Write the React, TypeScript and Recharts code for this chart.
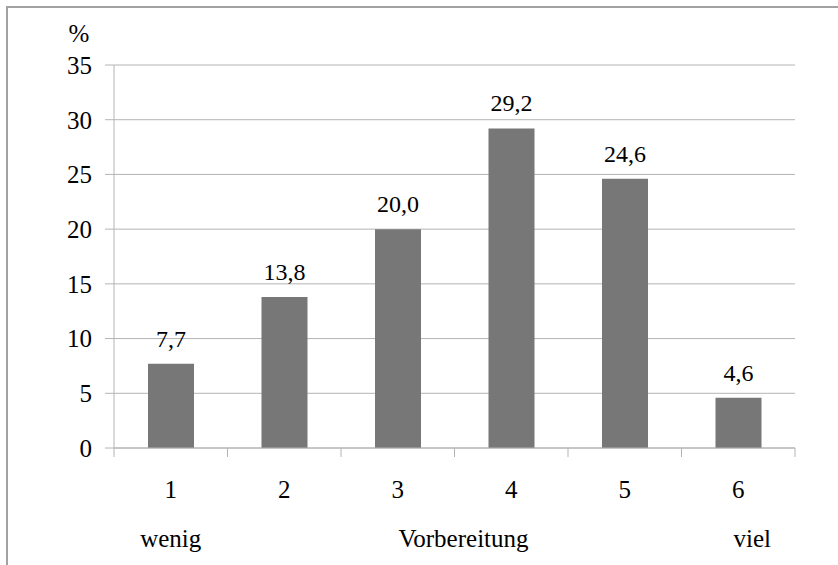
import { BarChart, Bar, XAxis, YAxis, CartesianGrid, LabelList } from 'recharts';

const categories = ['1', '2', '3', '4', '5', '6'];
const shares = [7.7, 13.8, 20.0, 29.2, 24.6, 4.6];
const yTicks = [0, 5, 10, 15, 20, 25, 30, 35];
const scaleEnds = ['wenig', '', '', '', '', 'viel'];
const axisTitle = 'Vorbereitung';
const unit = '%';

const data = categories.map((c, i) => ({ name: c, value: shares[i], end: scaleEnds[i] }));

const W = 838;
const H = 565;
const PLOT_LEFT = 114;
const PLOT_TOP = 65;
const PLOT_RIGHT = 795;
const PLOT_BOTTOM = 448;
const BAND = (PLOT_RIGHT - PLOT_LEFT) / categories.length;

const FONT = 'Liberation Serif, DejaVu Serif, Times New Roman, serif';
const GRID = '#b4b4b4';
const textStyle = { fontFamily: FONT, fontSize: 25, fill: '#000' };

const CategoryTick = (props: any) => {
  const { x, index, payload } = props;
  const end = data[index]?.end;
  const isLast = index === categories.length - 1;
  return (
    <g>
      <line x1={x - BAND / 2} x2={x - BAND / 2} y1={PLOT_BOTTOM} y2={PLOT_BOTTOM + 9} stroke={GRID} />
      {isLast && (
        <line x1={x + BAND / 2} x2={x + BAND / 2} y1={PLOT_BOTTOM} y2={PLOT_BOTTOM + 9} stroke={GRID} />
      )}
      <text x={x} y={PLOT_BOTTOM + 50} textAnchor="middle" fontFamily={FONT} fontSize={25} fill="#000">
        {payload.value}
      </text>
      {end && (
        <text x={x + (isLast ? 14 : 0)} y={PLOT_BOTTOM + 99} textAnchor="middle" fontFamily={FONT} fontSize={25} fill="#000">
          {end}
        </text>
      )}
    </g>
  );
};

const TitleLabel = (props: any) => {
  const { viewBox } = props;
  return (
    <text x={viewBox.x + viewBox.width / 2 + 9} y={PLOT_BOTTOM + 99} textAnchor="middle" fontFamily={FONT} fontSize={25} fill="#000">
      {axisTitle}
    </text>
  );
};

const UnitLabel = () => (
  <text x={79} y={PLOT_TOP - 23} textAnchor="middle" fontFamily={FONT} fontSize={25} fill="#000">
    {unit}
  </text>
);

export default function App() {
  return (
    <div
      style={{
        position: 'absolute',
        left: 0,
        top: 0,
        width: W,
        height: H,
        background: '#fff',
        overflow: 'hidden',
        fontFamily: FONT,
      }}
    >
      <div
        style={{
          position: 'absolute',
          left: 6,
          top: 6,
          width: W,
          height: H,
          borderLeft: '2px solid #a2a2a2',
          borderTop: '2px solid #a2a2a2',
        }}
      />
      <BarChart
        width={W}
        height={H}
        data={data}
        margin={{ top: PLOT_TOP, right: W - PLOT_RIGHT, bottom: 0, left: 0 }}
        barCategoryGap={0}
        style={{ position: 'absolute', left: 0, top: 0, fontFamily: FONT }}
      >
        <CartesianGrid vertical={false} stroke={GRID} />
        <XAxis
          dataKey="name"
          stroke={GRID}
          tickLine={false}
          tick={<CategoryTick />}
          interval={0}
          height={H - PLOT_BOTTOM}
          label={<TitleLabel />}
        />
        <YAxis
          domain={[0, 35]}
          ticks={yTicks}
          width={PLOT_LEFT}
          stroke={GRID}
          tickSize={9}
          tickMargin={13}
          interval={0}
          tick={textStyle}
          label={<UnitLabel />}
        />
        <Bar dataKey="value" fill="#777777" barSize={46} isAnimationActive={false}>
          <LabelList
            dataKey="value"
            position="top"
            offset={17}
            formatter={(v: any) => Number(v).toFixed(1).replace('.', ',')}
            fontFamily={FONT}
            fontSize={24}
            fill="#000"
          />
        </Bar>
      </BarChart>
    </div>
  );
}
